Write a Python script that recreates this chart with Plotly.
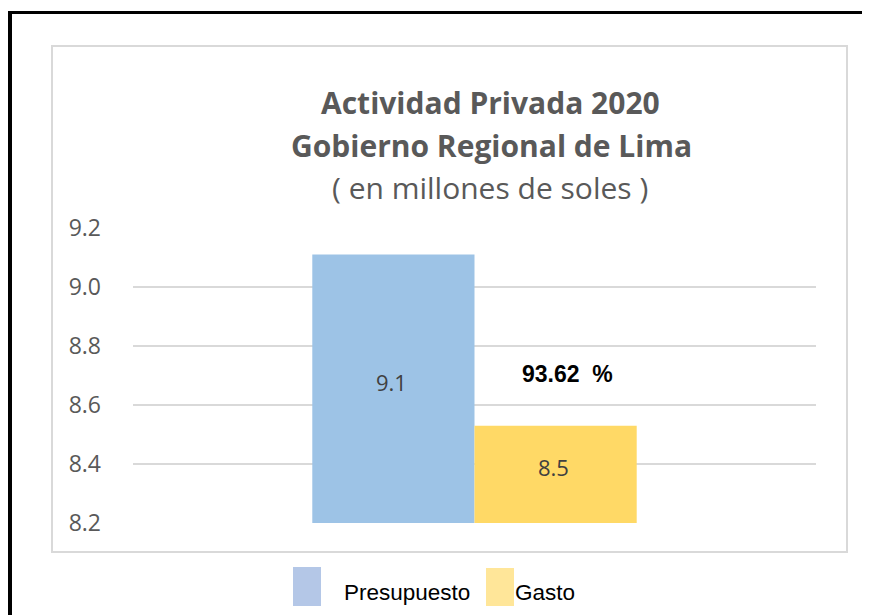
import plotly.graph_objects as go

categories = ["Actividad Privada 2020"]
series_names = ["Presupuesto", "Gasto"]
presupuesto = [9.11]
gasto = [8.53]
pct_label = "93.62  %"
tick_vals = [8.2, 8.4, 8.6, 8.8, 9.0, 9.2]
tick_text = ["8.2", "8.4", "8.6", "8.8", "9.0", "9.2"]
axis_min, axis_max = 8.2, 9.2

O = 8  # page body margin offset
W, H = 870 - O, 615 - O
L, R, T, B = 133 - O, 816 - O, 228 - O, 523 - O  # plot area in figure pixels


def px(x):
    return (x - O - L) / (R - L)


def py(y):
    return (B - (y - O)) / (B - T)


fig = go.Figure()
fig.add_trace(go.Bar(
    x=categories, y=presupuesto, name=series_names[0],
    marker=dict(color="#9DC3E6", line=dict(width=0)),
    showlegend=False, hoverinfo="y+name",
))
fig.add_trace(go.Bar(
    x=categories, y=gasto, name=series_names[1],
    marker=dict(color="#FFD966", line=dict(width=0)),
    showlegend=False, hoverinfo="y+name",
))

fig.update_layout(
    width=W, height=H,
    margin=dict(l=L, r=W - R, t=T, b=H - B, pad=0),
    paper_bgcolor="white", plot_bgcolor="white",
    barmode="group", bargap=0.525, bargroupgap=0,
    showlegend=False,
    xaxis=dict(showticklabels=False, showgrid=False, zeroline=False, showline=False,
               range=[-0.5, 0.5], fixedrange=True),
    yaxis=dict(range=[axis_min, axis_max], tickvals=tick_vals, ticktext=tick_text,
               showgrid=True, gridcolor="#D9D9D9", gridwidth=1.5,
               zeroline=False, showline=False, ticks="", ticklabelstandoff=31,
               tickfont=dict(family="Open Sans", size=23, color="#595959")),
)

shapes = [
    # inner gray chart-area border
    dict(type="rect", xref="paper", yref="paper",
         x0=px(52), x1=px(847), y0=py(552), y1=py(46),
         line=dict(color="#D9D9D9", width=2), fillcolor="rgba(0,0,0,0)", layer="below"),
    # outer black frame (left and top)
    dict(type="line", xref="paper", yref="paper",
         x0=px(10), x1=px(10), y0=py(11), y1=py(620),
         line=dict(color="black", width=4)),
    dict(type="line", xref="paper", yref="paper",
         x0=px(8), x1=px(875), y0=py(12.5), y1=py(12.5),
         line=dict(color="black", width=3)),
    # legend swatches
    dict(type="rect", xref="paper", yref="paper",
         x0=px(293), x1=px(321), y0=py(606), y1=py(567),
         line=dict(width=0), fillcolor="#B4C7E7"),
    dict(type="rect", xref="paper", yref="paper",
         x0=px(486), x1=px(514), y0=py(606), y1=py(568),
         line=dict(width=0), fillcolor="#FFE699"),
]
fig.update_layout(shapes=shapes)

title_font_b = dict(family="Open Sans", size=30, color="#595959")
annotations = [
    dict(text="<b>Actividad Privada 2020</b>", xref="paper", yref="paper",
         x=px(490), y=py(102), font=title_font_b),
    dict(text="<b>Gobierno Regional de Lima</b>", xref="paper", yref="paper",
         x=px(491), y=py(145), font=title_font_b),
    dict(text="( en millones de soles )", xref="paper", yref="paper",
         x=px(490), y=py(187),
         font=dict(family="Open Sans", size=30, color="#595959")),
    dict(text="<b>" + pct_label + "</b>", xref="paper", yref="paper",
         x=px(567), y=py(374),
         font=dict(family="Liberation Sans Narrow, Liberation Sans, Arial", size=23, color="black")),
    dict(text=series_names[0], xref="paper", yref="paper", x=px(342), y=py(592), xanchor="left",
         font=dict(family="Liberation Sans Narrow, Liberation Sans, Arial", size=22.5, color="black")),
    dict(text=series_names[1], xref="paper", yref="paper", x=px(513), y=py(592), xanchor="left",
         font=dict(family="Liberation Sans Narrow, Liberation Sans, Arial", size=22.5, color="black")),
]
# value labels centred in the visible part of each bar
bar_shift = 81
for vals, shift in ((presupuesto, -bar_shift), (gasto, bar_shift)):
    for cat, v in zip(categories, vals):
        annotations.append(dict(
            text=f"{v:.1f}", xref="x", yref="y", x=cat, y=(axis_min + v) / 2,
            xshift=shift - 2, yshift=7,
            font=dict(family="Open Sans", size=22, color="#404040")))
for a in annotations:
    a.setdefault("xanchor", "center")
    a.update(yanchor="middle", showarrow=False)
fig.update_layout(annotations=annotations)

fig.write_html("out.html")
